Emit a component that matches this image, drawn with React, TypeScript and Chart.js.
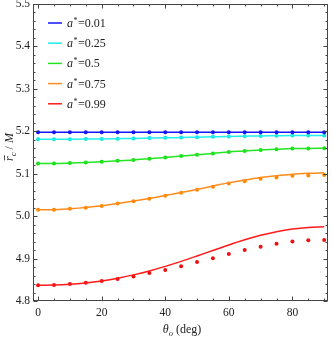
import { useEffect, useRef } from "react";
import { Chart, registerables } from "chart.js";
Chart.register(...registerables);

const THETA = [0, 5, 10, 15, 20, 25, 30, 35, 40, 45, 50, 55, 60, 65, 70, 75, 80, 85, 90];

const A001 = [5.198, 5.198, 5.198, 5.198, 5.198, 5.198, 5.198, 5.198, 5.198, 5.198, 5.198, 5.198, 5.198, 5.198, 5.198, 5.198, 5.198, 5.198, 5.198];
const A025 = [5.181, 5.181, 5.1813, 5.1816, 5.182, 5.1826, 5.1832, 5.1839, 5.1846, 5.1854, 5.1861, 5.1869, 5.1878, 5.1884, 5.189, 5.1894, 5.1898, 5.1899, 5.19];
const A050 = [5.124, 5.1241, 5.125, 5.1262, 5.128, 5.1305, 5.1326, 5.1355, 5.1384, 5.1416, 5.1445, 5.1478, 5.1514, 5.1535, 5.156, 5.1575, 5.1593, 5.1596, 5.16];
const A075_PTS = [5.0149, 5.015, 5.0173, 5.02, 5.024, 5.03, 5.035, 5.041, 5.048, 5.055, 5.062, 5.069, 5.077, 5.082, 5.088, 5.091, 5.095, 5.096, 5.097];
const A075_LINE = [5.015, 5.0152, 5.0175, 5.0205, 5.0245, 5.03, 5.0355, 5.0415, 5.0485, 5.0555, 5.063, 5.071, 5.079, 5.085, 5.091, 5.095, 5.099, 5.101, 5.102];
const A099_PTS = [4.837, 4.838, 4.84, 4.843, 4.847, 4.852, 4.858, 4.866, 4.873, 4.882, 4.892, 4.901, 4.911, 4.92, 4.928, 4.935, 4.94, 4.943, 4.944];
const A099_LINE = [4.837, 4.8375, 4.8393, 4.8426, 4.8474, 4.8537, 4.8616, 4.8709, 4.8816, 4.8934, 4.9061, 4.9192, 4.9321, 4.9442, 4.9548, 4.9633, 4.9695, 4.9733, 4.975];

const LEGEND_LABELS = ["0.01", "0.25", "0.5", "0.75", "0.99"];
const COLORS = ["#1414ff", "#22eeee", "#22e622", "#ff8c1a", "#ff1a1a"];
const POINT_COLORS = ["#1010ee", "#10e0e0", "#10dd10", "#ff8800", "#ee1010"];

const X_MAJOR = [0, 20, 40, 60, 80];
const X_MINOR = [5, 10, 15, 25, 30, 35, 45, 50, 55, 65, 70, 75, 85, 90];
const Y_MAJOR = [4.8, 4.9, 5.0, 5.1, 5.2, 5.3, 5.4, 5.5];
const Y_MINOR = [4.82, 4.84, 4.86, 4.88, 4.92, 4.94, 4.96, 4.98, 5.02, 5.04, 5.06, 5.08, 5.12, 5.14, 5.16, 5.18, 5.22, 5.24, 5.26, 5.28, 5.32, 5.34, 5.36, 5.38, 5.42, 5.44, 5.46, 5.48];

const SERIF = "'Liberation Serif', 'DejaVu Serif', serif";

function pts(vals: number[]) {
  return THETA.map((t, i) => ({ x: t, y: vals[i] }));
}

const framePlugin = {
  id: "frameTicks",
  afterDraw(chart: any) {
    const ctx = chart.ctx as CanvasRenderingContext2D;
    const { left, right, top, bottom } = chart.chartArea;
    const xs = chart.scales.x;
    const ys = chart.scales.y;
    ctx.save();
    ctx.strokeStyle = "#444";
    ctx.lineWidth = 1;
    ctx.strokeRect(Math.round(left) + 0.5, Math.round(top) + 0.5, Math.round(right - left) - 1, Math.round(bottom - top) - 1);
    const L = Math.round(left) + 0.5, R = Math.round(right) - 0.5, T = Math.round(top) + 0.5, B = Math.round(bottom) - 0.5;
    ctx.beginPath();
    const xt = (v: number, len: number) => {
      const p = Math.round(xs.getPixelForValue(v)) + 0.5;
      ctx.moveTo(p, B); ctx.lineTo(p, B - len);
      ctx.moveTo(p, T); ctx.lineTo(p, T + len);
    };
    const yt = (v: number, len: number) => {
      const p = Math.round(ys.getPixelForValue(v)) + 0.5;
      ctx.moveTo(L, p); ctx.lineTo(L + len, p);
      ctx.moveTo(R, p); ctx.lineTo(R - len, p);
    };
    X_MAJOR.forEach((v) => xt(v, 4));
    X_MINOR.forEach((v) => xt(v, 2));
    Y_MAJOR.forEach((v) => yt(v, 4));
    Y_MINOR.forEach((v) => yt(v, 2));
    ctx.stroke();

    // legend
    ctx.textBaseline = "alphabetic";
    ctx.fillStyle = "#222";
    LEGEND_LABELS.forEach((lab, i) => {
      const y = 23 + i * 20.2;
      ctx.strokeStyle = COLORS[i];
      ctx.lineWidth = 1.5;
      ctx.beginPath();
      ctx.moveTo(48, y);
      ctx.lineTo(62, y);
      ctx.stroke();
      let x = 67;
      const base = y + 4;
      ctx.font = `italic 12px ${SERIF}`;
      ctx.fillText("a", x, base);
      x += ctx.measureText("a").width + 0.5;
      ctx.font = `8px ${SERIF}`;
      ctx.fillText("*", x, base - 4);
      x += ctx.measureText("*").width + 0.5;
      ctx.font = `12px ${SERIF}`;
      ctx.fillText("=" + lab, x, base);
    });

    // y title
    ctx.save();
    ctx.translate(9, 147);
    ctx.rotate(-Math.PI / 2);
    ctx.fillStyle = "#222";
    ctx.font = `italic 12px ${SERIF}`;
    const wr = ctx.measureText("r").width;
    ctx.font = `italic 8.5px ${SERIF}`;
    const wc = ctx.measureText("c").width;
    ctx.font = `12px ${SERIF}`;
    const ws = ctx.measureText(" / ").width;
    ctx.font = `italic 12px ${SERIF}`;
    const wm = ctx.measureText("M").width;
    const total = wr + wc + ws + wm;
    let u = -total / 2;
    const bl = 4;
    ctx.font = `italic 12px ${SERIF}`;
    ctx.fillText("r", u, bl);
    ctx.strokeStyle = "#222";
    ctx.lineWidth = 0.8;
    ctx.beginPath();
    ctx.moveTo(u + 0.5, bl - 8.5);
    ctx.lineTo(u + wr + 1, bl - 8.5);
    ctx.stroke();
    u += wr;
    ctx.font = `italic 8.5px ${SERIF}`;
    ctx.fillText("c", u, bl + 2.5);
    u += wc;
    ctx.font = `12px ${SERIF}`;
    ctx.fillText(" / ", u, bl);
    u += ws;
    ctx.font = `italic 12px ${SERIF}`;
    ctx.fillText("M", u, bl);
    ctx.restore();

    // x title
    ctx.font = `italic 12px ${SERIF}`;
    const wt = ctx.measureText("θ").width;
    ctx.font = `italic 8.5px ${SERIF}`;
    const wo = ctx.measureText("o").width;
    ctx.font = `12px ${SERIF}`;
    const wd = ctx.measureText(" (deg)").width;
    let xx = 182 - (wt + wo + wd) / 2;
    const by = 333;
    ctx.font = `italic 12px ${SERIF}`;
    ctx.fillText("θ", xx, by);
    xx += wt;
    ctx.font = `italic 8.5px ${SERIF}`;
    ctx.fillText("o", xx, by + 2.5);
    xx += wo;
    ctx.font = `12px ${SERIF}`;
    ctx.fillText(" (deg)", xx, by);
    ctx.restore();
  },
};

export default function App() {
  const ref = useRef<HTMLCanvasElement>(null);
  useEffect(() => {
    document.body.style.margin = "0";
    const lines = [A001, A025, A050, A075_LINE, A099_LINE];
    const points = [A001, A025, A050, A075_PTS, A099_PTS];
    const datasets: any[] = [];
    lines.forEach((l, i) => {
      datasets.push({
        data: pts(l),
        borderColor: COLORS[i],
        borderWidth: 1.5,
        pointRadius: 0,
        cubicInterpolationMode: "monotone",
        fill: false,
      });
    });
    points.forEach((p, i) => {
      datasets.push({
        data: pts(p),
        showLine: false,
        pointRadius: 2,
        pointStyle: "circle",
        pointBackgroundColor: POINT_COLORS[i],
        pointBorderWidth: 0,
        borderColor: POINT_COLORS[i],
      });
    });
    const chart = new Chart(ref.current!, {
      type: "line",
      data: { datasets },
      options: {
        animation: false,
        responsive: false,
        events: [],
        layout: { padding: { top: 4, right: 1, left: 0, bottom: 0 } },
        plugins: { legend: { display: false }, tooltip: { enabled: false } },
        scales: {
          x: {
            type: "linear",
            min: -1.6,
            max: 91.2,
            grid: { display: false, drawTicks: false },
            border: { display: false },
            afterBuildTicks: (s: any) => {
              s.ticks = X_MAJOR.map((v) => ({ value: v }));
            },
            afterFit: (s: any) => {
              s.height = 39;
              s.paddingLeft = 0;
              s.paddingRight = 0;
            },
            ticks: {
              padding: 5,
              maxRotation: 0,
              color: "#222",
              font: { family: SERIF, size: 11.5 },
              callback: (v: any) => String(v),
            },
          },
          y: {
            min: 4.8,
            max: 5.5,
            grid: { display: false, drawTicks: false },
            border: { display: false },
            afterBuildTicks: (s: any) => {
              s.ticks = Y_MAJOR.map((v) => ({ value: v }));
            },
            afterFit: (s: any) => {
              s.width = 33;
              s.paddingTop = 0;
              s.paddingBottom = 0;
            },
            ticks: {
              padding: 3,
              color: "#222",
              font: { family: SERIF, size: 11.5 },
              callback: (v: any) => Number(v).toFixed(1),
            },
          },
        },
      },
      plugins: [framePlugin],
    });
    return () => chart.destroy();
  }, []);
  return (
    <div style={{ width: 332, height: 340 }}>
      <canvas ref={ref} width={332} height={340} style={{ display: "block" }} />
    </div>
  );
}
